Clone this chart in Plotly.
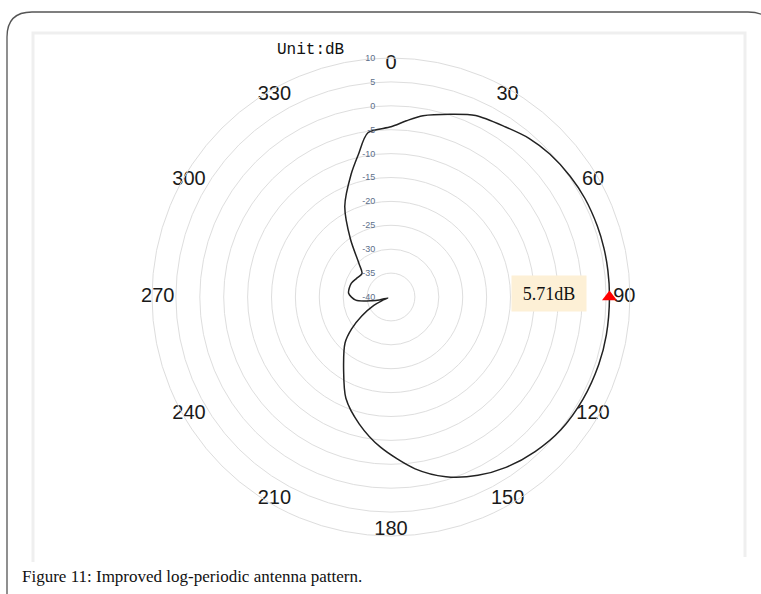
import plotly.graph_objects as go

# ---- data ----
angles_deg = [0, 5, 10, 18, 25, 34, 41, 48, 56, 63, 71, 77, 83, 90, 100, 108, 118, 128,
              137, 146, 154, 163, 172, 184, 194, 204, 213, 225, 231, 237, 244, 248, 252,
              256, 259, 265, 275, 289, 298, 309, 316, 325, 333, 342, 347, 352, 360]
gain_db = [-4.4, -3.0, -1.5, 0.2, 1.9, 2.9, 4.0, 4.7, 5.2, 5.5, 5.65, 5.7, 5.71, 5.71, 5.75, 5.7,
           5.5, 5.1, 4.2, 3.0, 1.5, -0.7, -3.7, -8.5, -12.6, -16.8, -21.8, -26.4, -29.4, -32.7,
           -36.0, -38.0, -39.3, -37.5, -36.0, -32.6, -31.1, -31.2, -31.8, -32.2, -30.4, -25.2,
           -18.7, -13.0, -9.5, -5.3, -4.4]

marker_angle = [90]
marker_gain = [5.71]
marker_label = "5.71dB"

angle_ticks = [0, 30, 60, 90, 120, 150, 180, 210, 240, 270, 300, 330]
angle_tick_text = [str(a) for a in angle_ticks]
radial_ticks = [-40, -35, -30, -25, -20, -15, -10, -5, 0, 5, 10]
radial_range = [-40, 10]

unit_text = "Unit:dB"
caption = "Figure 11: Improved log-periodic antenna pattern."

# ---- layout constants ----
W, H = 761, 594
CX, CY, R = 391, 297, 239
LABEL_R = 8.8

def px(x):
    return x / W

def py(y):
    return 1 - y / H

fig = go.Figure()

fig.add_trace(go.Scatterpolar(
    r=gain_db, theta=angles_deg, mode="lines",
    line=dict(color="#222222", width=1.5, shape="spline", smoothing=0.8),
    hoverinfo="skip", showlegend=False))

fig.add_trace(go.Scatterpolar(
    r=[LABEL_R] * len(angle_ticks), theta=angle_ticks, mode="text",
    text=angle_tick_text,
    textfont=dict(family="Liberation Sans", size=20, color="#1a1a1a"),
    textposition="middle center", hoverinfo="skip", showlegend=False, cliponaxis=False))

fig.add_trace(go.Scatterpolar(
    r=marker_gain, theta=marker_angle, mode="markers",
    marker=dict(symbol="triangle-up", size=13, color="#ff0000"),
    hoverinfo="skip", showlegend=False, cliponaxis=False))

fig.update_layout(
    width=W, height=H,
    margin=dict(l=0, r=0, t=0, b=0),
    paper_bgcolor="white",
    polar=dict(
        domain=dict(x=[px(CX - R), px(CX + R)], y=[py(CY + R), py(CY - R)]),
        bgcolor="white",
        angularaxis=dict(rotation=90, direction="clockwise", showgrid=False,
                         showticklabels=False, ticks="", showline=True,
                         linecolor="#dddddd", linewidth=1),
        radialaxis=dict(range=radial_range, tickvals=radial_ticks,
                        ticktext=[str(v) for v in radial_ticks],
                        showline=False, gridcolor="#dedede", gridwidth=1,
                        angle=90, side="counterclockwise", tickangle=90,
                        ticks="outside", ticklen=12, tickcolor="rgba(0,0,0,0)",
                        tickfont=dict(family="Liberation Sans", size=9, color="#5d6f8a")),
    ),
    annotations=[
        dict(x=px(310), y=py(50), xref="paper", yref="paper", text=unit_text,
             xanchor="center", yanchor="middle",
             showarrow=False, font=dict(family="Liberation Mono", size=16, color="#111111")),
        dict(x=px(549), y=py(293), xref="paper", yref="paper", text=marker_label,
             xanchor="center", yanchor="middle",
             showarrow=False, bgcolor="#fdf0d6", width=74, height=35, borderpad=0,
             font=dict(family="Liberation Serif", size=18, color="#111111")),
        dict(x=px(20), y=py(576), xref="paper", yref="paper", text=caption,
             xanchor="left", yanchor="middle", showarrow=False,
             font=dict(family="Liberation Serif", size=17, color="#111111")),
    ],
    shapes=[
        dict(type="path", xref="paper", yref="paper",
             path=(f"M {px(7)},{py(600)} L {px(7)},{py(37)} Q {px(7)},{py(12)} {px(32)},{py(12)} "
                   f"L {px(748)},{py(12)} Q {px(775)},{py(12)} {px(775)},{py(39)} L {px(775)},{py(600)}"),
             line=dict(color="#555555", width=1.3)),
        dict(type="path", xref="paper", yref="paper",
             path=(f"M {px(33)},{py(562)} L {px(33)},{py(33)} L {px(745)},{py(33)} L {px(745)},{py(557)}"),
             line=dict(color="#efefef", width=3)),
    ],
)

fig.write_html("out.html")
